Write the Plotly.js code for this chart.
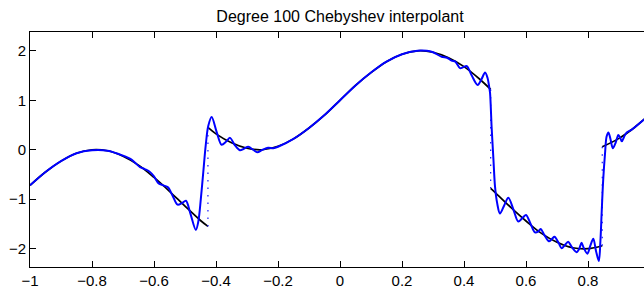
<!DOCTYPE html>
<html>
<head>
<meta charset="utf-8">
<script src="https://cdn.plot.ly/plotly-3.0.1.min.js"></script>
<style>
html,body{margin:0;padding:0;overflow:hidden;background:#fff;}
#chart{width:660px;height:291px;}
</style>
</head>
<body>
<div id="chart"></div>
<script>
// True function, piecewise smooth (black)
const seg1X = [-1, -0.95, -0.9, -0.85, -0.8, -0.75, -0.7, -0.65, -0.6, -0.55, -0.5, -0.45, -0.426];
const seg1Y = [-0.72, -0.45, -0.23, -0.07, 0.00, -0.02, -0.13, -0.31, -0.56, -0.84, -1.14, -1.43, -1.55];
const seg2X = [-0.426, -0.4, -0.35, -0.3, -0.25, -0.2, -0.15, -0.1, -0.05, 0, 0.05, 0.1, 0.15, 0.2, 0.25, 0.3, 0.35, 0.4, 0.45, 0.486];
const seg2Y = [0.45, 0.32, 0.14, 0.03, 0.00, 0.07, 0.22, 0.44, 0.70, 1.00, 1.30, 1.56, 1.78, 1.93, 2.00, 1.97, 1.86, 1.68, 1.43, 1.22];
const seg3X = [0.486, 0.5, 0.55, 0.6, 0.65, 0.7, 0.75, 0.8, 0.846];
const seg3Y = [-0.78, -0.86, -1.16, -1.44, -1.69, -1.87, -1.98, -2.00, -1.94];
const seg4X = [0.846, 0.9, 0.95, 1.0];
const seg4Y = [0.06, 0.23, 0.45, 0.72];

// Jump locations and the values on either side (dotted lines)
const jumpX = [-0.426, 0.486, 0.846];
const jumpLeftY = [-1.55, 1.22, -1.94];
const jumpRightY = [0.45, -0.78, 0.06];

// Degree 100 interpolant (blue)
const interpX = [-1.00, -0.95, -0.90, -0.85, -0.80, -0.75, -0.70, -0.675, -0.66, -0.645, -0.63, -0.615, -0.60, -0.585, -0.57, -0.555, -0.54, -0.524, -0.51, -0.497, -0.483, -0.465, -0.457, -0.449, -0.441, -0.433, -0.425, -0.414, -0.398, -0.382, -0.368, -0.355, -0.34, -0.323, -0.31, -0.296, -0.28, -0.267, -0.25, -0.232, -0.215, -0.20, -0.15, -0.10, -0.05, 0.00, 0.05, 0.10, 0.15, 0.20, 0.25, 0.28, 0.30, 0.328, 0.345, 0.36, 0.372, 0.387, 0.398, 0.409, 0.425, 0.444, 0.456, 0.468, 0.476, 0.481, 0.484, 0.489, 0.495, 0.500, 0.507, 0.516, 0.53, 0.543, 0.56, 0.575, 0.59, 0.60, 0.615, 0.629, 0.64, 0.647, 0.66, 0.674, 0.684, 0.692, 0.705, 0.715, 0.725, 0.736, 0.748, 0.763, 0.772, 0.779, 0.786, 0.798, 0.807, 0.817, 0.826, 0.835, 0.840, 0.844, 0.849, 0.855, 0.860, 0.866, 0.873, 0.880, 0.889, 0.898, 0.904, 0.909, 0.917, 0.925, 0.94, 0.95, 0.975, 1.00];
const interpY = [-0.72, -0.45, -0.23, -0.07, -0.01, -0.02, -0.12, -0.19, -0.27, -0.35, -0.39, -0.44, -0.54, -0.68, -0.72, -0.76, -0.93, -1.11, -1.08, -1.03, -1.28, -1.62, -1.45, -1.00, -0.45, 0.10, 0.48, 0.66, 0.36, 0.10, 0.16, 0.24, 0.10, -0.01, 0.02, 0.06, 0.00, -0.05, 0.00, 0.04, 0.03, 0.06, 0.22, 0.44, 0.70, 1.00, 1.30, 1.56, 1.78, 1.93, 2.00, 2.00, 1.97, 1.88, 1.86, 1.80, 1.78, 1.65, 1.67, 1.69, 1.50, 1.31, 1.42, 1.56, 1.45, 1.28, 1.15, 0.47, -0.20, -0.74, -1.08, -1.29, -1.12, -0.97, -1.22, -1.45, -1.37, -1.32, -1.50, -1.67, -1.65, -1.60, -1.73, -1.85, -1.80, -1.76, -1.88, -1.99, -1.93, -1.86, -1.97, -2.07, -2.00, -1.88, -1.98, -2.10, -1.95, -1.80, -2.05, -2.25, -1.85, -1.28, -0.61, -0.07, 0.27, 0.35, 0.20, 0.03, 0.14, 0.30, 0.24, 0.17, 0.27, 0.35, 0.40, 0.45, 0.58, 0.72];

// Axis ticks (the label at x = 1 lies beyond the visible window in the reference)
const xTickVals = [-1, -0.8, -0.6, -0.4, -0.2, 0, 0.2, 0.4, 0.6, 0.8, 1];
const xTickText = ['\u22121', '\u22120.8', '\u22120.6', '\u22120.4', '\u22120.2', '0', '0.2', '0.4', '0.6', '0.8', ''];
const yTickVals = [-2, -1, 0, 1, 2];
const yTickText = ['\u22122', '\u22121', '0', '1', '2'];

const traces = [];
[[seg1X, seg1Y], [seg2X, seg2Y], [seg3X, seg3Y], [seg4X, seg4Y]].forEach(function (s) {
  traces.push({x: s[0], y: s[1], type: 'scatter', mode: 'lines',
    line: {color: '#000000', width: 1.7, shape: 'spline', smoothing: 1}, hoverinfo: 'skip'});
});
jumpX.forEach(function (jx, i) {
  traces.push({x: [jx, jx], y: [jumpLeftY[i], jumpRightY[i]], type: 'scatter', mode: 'lines',
    line: {color: '#1a1aff', width: 1.2, dash: '1.5px,6px'}, hoverinfo: 'skip'});
});
traces.push({x: interpX, y: interpY, type: 'scatter', mode: 'lines',
  line: {color: '#0000ff', width: 2, shape: 'spline', smoothing: 0.9}, hoverinfo: 'skip'});

const axisFont = {family: 'Liberation Sans, Arial, Helvetica, sans-serif', size: 15, color: '#000'};

const layout = {
  width: 660, height: 291,
  margin: {l: 30, r: 10, t: 32, b: 24},
  paper_bgcolor: '#fff', plot_bgcolor: '#fff',
  showlegend: false,
  title: {text: 'Degree 100 Chebyshev interpolant',
    font: {family: 'Liberation Sans, Arial, Helvetica, sans-serif', size: 16, color: '#000'},
    x: 340 / 660, xanchor: 'center', xref: 'container',
    y: 1 - 16 / 291, yanchor: 'middle', yref: 'container'},
  xaxis: {range: [-1, 1], tickvals: xTickVals, ticktext: xTickText,
    showgrid: false, zeroline: false, showline: true, linecolor: '#000', linewidth: 1,
    mirror: 'ticks', ticks: 'inside', ticklen: 6, tickwidth: 1, tickcolor: '#000',
    tickfont: axisFont},
  yaxis: {range: [-2.37, 2.38], tickvals: yTickVals, ticktext: yTickText,
    showgrid: false, zeroline: false, showline: true, linecolor: '#000', linewidth: 1,
    mirror: 'ticks', ticks: 'inside', ticklen: 6, tickwidth: 1, tickcolor: '#000',
    tickfont: axisFont}
};

Plotly.newPlot('chart', traces, layout, {staticPlot: true, displayModeBar: false});
</script>
</body>
</html>
